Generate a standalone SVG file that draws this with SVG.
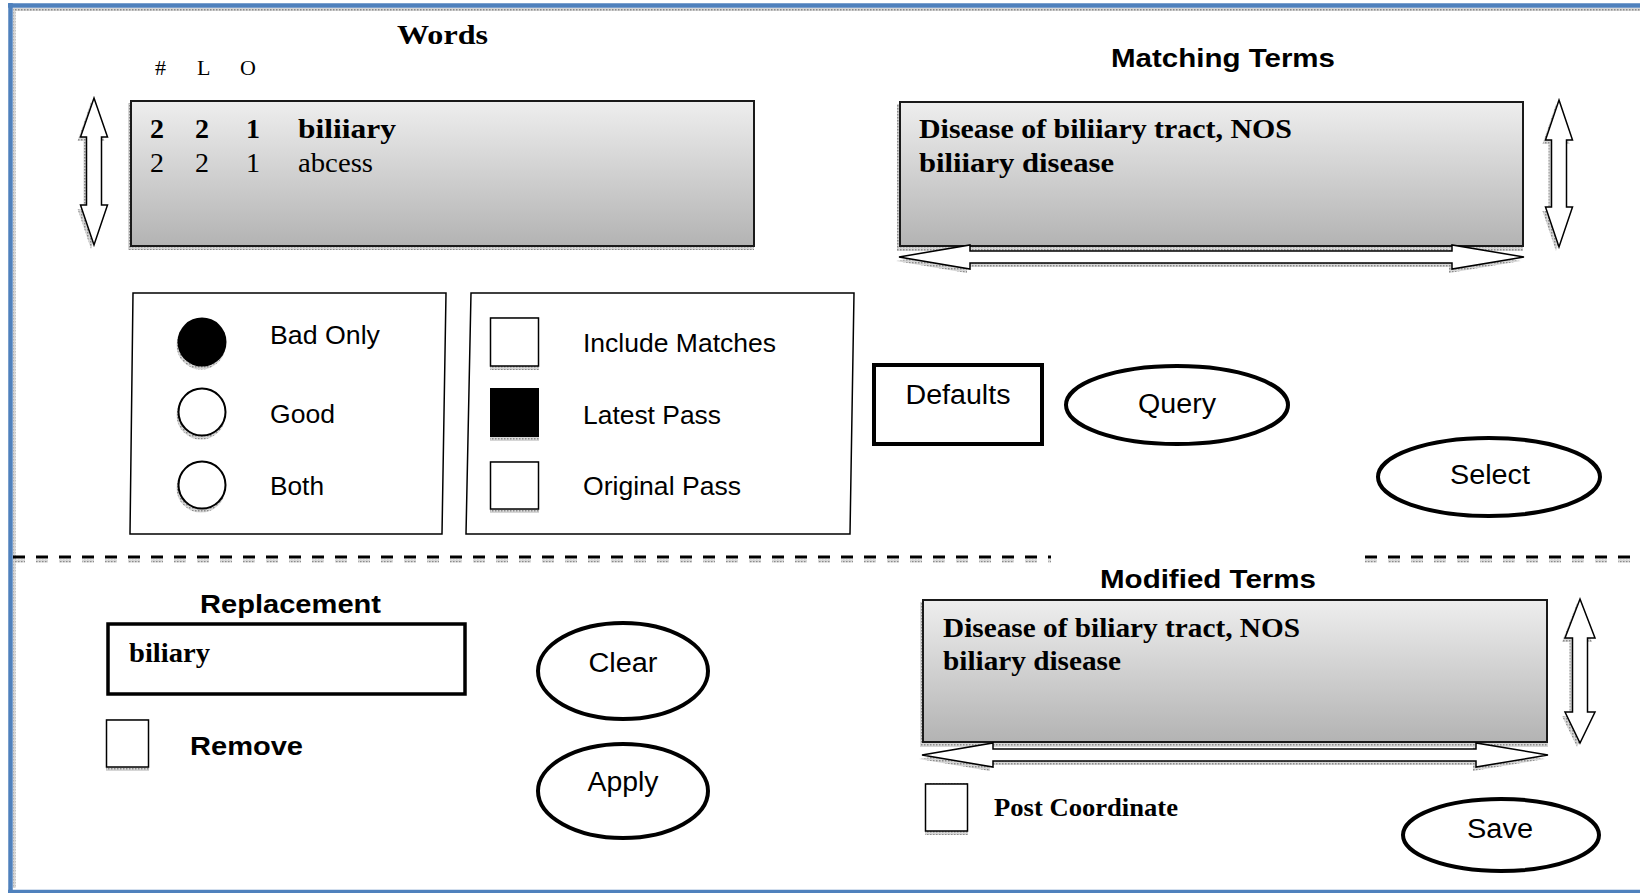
<svg xmlns="http://www.w3.org/2000/svg" width="1640" height="893" viewBox="0 0 1640 893">
  <defs>
    <linearGradient id="panelFill" x1="0" y1="0" x2="0" y2="1">
      <stop offset="0" stop-color="#eeeeee"/>
      <stop offset="1" stop-color="#b3b3b3"/>
    </linearGradient>
    <pattern id="stipple" width="3" height="3" patternUnits="userSpaceOnUse">
      <rect width="3" height="3" fill="#d6d6d6"/>
      <rect width="1.5" height="1.5" fill="#8c8c8c"/>
    </pattern>
    <style>
      .frame { stroke: #4f81bd; fill: none; }
      .panel { fill: url(#panelFill); stroke: #1a1a1a; stroke-width: 2; }
      .shadow { fill: url(#stipple); stroke: none; }
      .scroll { fill: #ffffff; stroke: #000000; stroke-width: 1.5; stroke-linejoin: miter; }
      .group-box { fill: none; stroke: #000000; stroke-width: 1.5; }
      .check { fill: #ffffff; stroke: #000000; stroke-width: 1.5; }
      .radio { fill: #ffffff; stroke: #000000; stroke-width: 2; }
      .button { fill: #ffffff; stroke: #000000; stroke-width: 4; }
      .divider { stroke: #000000; stroke-width: 3; stroke-dasharray: 12 11; fill: none; }
      .divider-shadow { stroke: url(#stipple); stroke-width: 3; stroke-dasharray: 12 11; fill: none; }
      .serif { font-family: "Liberation Serif", "Times New Roman", serif; fill: #000000; }
      .sans { font-family: "Liberation Sans", Arial, sans-serif; fill: #000000; }
      .title { font-family: "Liberation Sans", Arial, sans-serif; font-weight: bold; font-size: 26px; }
      .list { font-size: 28px; }
      .b { font-weight: bold; }
      .opt { font-size: 26px; }
      .btn { font-size: 27px; text-anchor: middle; }
    </style>
  </defs>

  <rect width="1640" height="893" fill="#ffffff"/>

  <!-- window frame -->
  <g id="frame">
    <rect x="13" y="8" width="1627" height="3" class="shadow"/>
    <rect x="13" y="8" width="2.5" height="880" class="shadow"/>
    <line x1="8" y1="5.5" x2="1640" y2="5.5" class="frame" stroke-width="4.5"/>
    <line x1="10.5" y1="3" x2="10.5" y2="893" class="frame" stroke-width="4.5"/>
    <line x1="8" y1="891.5" x2="1640" y2="891.5" class="frame" stroke-width="3.5"/>
  </g>

  <!-- section dividers -->
  <g id="dividers">
    <line x1="13" y1="561" x2="1051" y2="561" class="divider-shadow"/>
    <line x1="1365" y1="561" x2="1640" y2="561" class="divider-shadow"/>
    <line x1="13" y1="557" x2="1051" y2="557" class="divider"/>
    <line x1="1365" y1="557" x2="1640" y2="557" class="divider"/>
  </g>

  <!-- Words list -->
  <g id="words">
    <text x="397" y="44" class="serif b" font-size="28" textLength="91" lengthAdjust="spacingAndGlyphs">Words</text>
    <text x="155" y="75" class="serif" font-size="22">#</text>
    <text x="197" y="75" class="serif" font-size="22">L</text>
    <text x="240" y="75" class="serif" font-size="22">O</text>
    <rect x="128" y="103" width="626" height="147" class="shadow"/>
    <rect x="131" y="101" width="623" height="145" class="panel"/>
    <g class="serif list b">
      <text x="150" y="138">2</text>
      <text x="195" y="138">2</text>
      <text x="246" y="138">1</text>
      <text x="298" y="138" textLength="98" lengthAdjust="spacingAndGlyphs">biliiary</text>
    </g>
    <g class="serif list">
      <text x="150" y="172">2</text>
      <text x="195" y="172">2</text>
      <text x="246" y="172">1</text>
      <text x="298" y="172" textLength="75" lengthAdjust="spacingAndGlyphs">abcess</text>
    </g>
  </g>

  <!-- Matching terms list -->
  <g id="matching-terms">
    <text x="1111" y="67" class="title" textLength="224" lengthAdjust="spacingAndGlyphs">Matching Terms</text>
    <rect x="897" y="104" width="626" height="147" class="shadow"/>
    <rect x="900" y="102" width="623" height="144" class="panel"/>
    <g class="serif list b">
      <text x="919" y="138" textLength="373" lengthAdjust="spacingAndGlyphs">Disease of biliiary tract, NOS</text>
      <text x="919" y="172" textLength="195" lengthAdjust="spacingAndGlyphs">biliiary disease</text>
    </g>
  </g>

  <!-- Modified terms list -->
  <g id="modified-terms">
    <text x="1100" y="588" class="title" textLength="216" lengthAdjust="spacingAndGlyphs">Modified Terms</text>
    <rect x="920" y="602" width="628" height="145" class="shadow"/>
    <rect x="923" y="600" width="624" height="142" class="panel"/>
    <g class="serif list b">
      <text x="943" y="637" textLength="357" lengthAdjust="spacingAndGlyphs">Disease of biliary tract, NOS</text>
      <text x="943" y="670" textLength="178" lengthAdjust="spacingAndGlyphs">biliary disease</text>
    </g>
  </g>

  <!-- scroll arrows -->
  <g id="scrollbars">
    <g transform="translate(-3,4)" class="shadow">
      <path d="M94,98 L107.5,137 L101.5,137 L101.5,205 L107.5,205 L94,245 L80.5,205 L86.5,205 L86.5,137 L80.5,137 Z"/>
      <path d="M1559,100 L1572.5,140 L1566.5,140 L1566.5,207 L1572.5,207 L1559,247 L1545.5,207 L1551.5,207 L1551.5,140 L1545.5,140 Z"/>
      <path d="M899,257 L970,245 L970,251 L1452,251 L1452,245 L1524,257 L1452,269 L1452,263 L970,263 L970,269 Z"/>
      <path d="M1580,599 L1595,638 L1587.5,638 L1587.5,712 L1595,712 L1580,743 L1565,712 L1572.5,712 L1572.5,638 L1565,638 Z"/>
      <path d="M922,755 L993,743 L993,749 L1476,749 L1476,743 L1548,755 L1476,767 L1476,761 L993,761 L993,767 Z"/>
    </g>
    <path id="words-vscroll" class="scroll" d="M94,98 L107.5,137 L101.5,137 L101.5,205 L107.5,205 L94,245 L80.5,205 L86.5,205 L86.5,137 L80.5,137 Z"/>
    <path id="matching-vscroll" class="scroll" d="M1559,100 L1572.5,140 L1566.5,140 L1566.5,207 L1572.5,207 L1559,247 L1545.5,207 L1551.5,207 L1551.5,140 L1545.5,140 Z"/>
    <path id="matching-hscroll" class="scroll" d="M899,257 L970,245 L970,251 L1452,251 L1452,245 L1524,257 L1452,269 L1452,263 L970,263 L970,269 Z"/>
    <path id="modified-vscroll" class="scroll" d="M1580,599 L1595,638 L1587.5,638 L1587.5,712 L1595,712 L1580,743 L1565,712 L1572.5,712 L1572.5,638 L1565,638 Z"/>
    <path id="modified-hscroll" class="scroll" d="M922,755 L993,743 L993,749 L1476,749 L1476,743 L1548,755 L1476,767 L1476,761 L993,761 L993,767 Z"/>
  </g>

  <!-- word filter radio group -->
  <g id="filter-options">
    <polygon points="133,293 446,293 442,534 130,534" class="group-box"/>
    <circle cx="201" cy="345" r="24.5" class="shadow"/>
    <circle cx="201" cy="415" r="24.5" class="shadow"/>
    <circle cx="201" cy="488" r="24.5" class="shadow"/>
    <circle cx="202" cy="342" r="24.5" fill="#000000"/>
    <circle cx="202" cy="412" r="23.5" class="radio"/>
    <circle cx="202" cy="485" r="23.5" class="radio"/>
    <g class="sans opt">
      <text x="270" y="344" textLength="110" lengthAdjust="spacingAndGlyphs">Bad Only</text>
      <text x="270" y="423" textLength="65" lengthAdjust="spacingAndGlyphs">Good</text>
      <text x="270" y="495" textLength="54" lengthAdjust="spacingAndGlyphs">Both</text>
    </g>
  </g>

  <!-- pass selection check group -->
  <g id="pass-options">
    <polygon points="471,293 854,293 850,534 466,534" class="group-box"/>
    <rect x="490" y="317" width="49" height="53" class="shadow"/>
    <rect x="490" y="388" width="49" height="53" class="shadow"/>
    <rect x="490" y="461" width="49" height="52" class="shadow"/>
    <rect x="490.5" y="318" width="48" height="48" class="check"/>
    <rect x="490" y="388" width="49" height="49" fill="#000000"/>
    <rect x="490.5" y="462" width="48" height="47" class="check"/>
    <g class="sans opt">
      <text x="583" y="352" textLength="193" lengthAdjust="spacingAndGlyphs">Include Matches</text>
      <text x="583" y="424" textLength="138" lengthAdjust="spacingAndGlyphs">Latest Pass</text>
      <text x="583" y="495" textLength="158" lengthAdjust="spacingAndGlyphs">Original Pass</text>
    </g>
  </g>

  <!-- action buttons -->
  <g id="defaults-button">
    <rect x="874" y="365" width="168" height="79" class="button"/>
    <text x="958" y="404" class="sans btn" textLength="105" lengthAdjust="spacingAndGlyphs">Defaults</text>
  </g>
  <g id="query-button">
    <ellipse cx="1177" cy="405" rx="111" ry="39" class="button"/>
    <text x="1177" y="413" class="sans btn" textLength="78" lengthAdjust="spacingAndGlyphs">Query</text>
  </g>
  <g id="select-button">
    <ellipse cx="1489" cy="477" rx="111" ry="39" class="button"/>
    <text x="1490" y="484" class="sans btn" textLength="80" lengthAdjust="spacingAndGlyphs">Select</text>
  </g>

  <!-- replacement editor -->
  <g id="replacement">
    <text x="200" y="613" class="title" textLength="181" lengthAdjust="spacingAndGlyphs">Replacement</text>
    <rect x="108" y="624" width="357" height="70" fill="#ffffff" stroke="#000000" stroke-width="3.5"/>
    <text x="129" y="662" class="serif list b" textLength="81" lengthAdjust="spacingAndGlyphs">biliary</text>
  </g>
  <g id="remove-option">
    <rect x="106" y="719" width="43" height="52" class="shadow"/>
    <rect x="106.5" y="720" width="42" height="47" class="check"/>
    <text x="190" y="755" class="title" textLength="113" lengthAdjust="spacingAndGlyphs">Remove</text>
  </g>
  <g id="clear-button">
    <ellipse cx="623" cy="671" rx="85" ry="48" class="button"/>
    <text x="623" y="672" class="sans btn" textLength="69" lengthAdjust="spacingAndGlyphs">Clear</text>
  </g>
  <g id="apply-button">
    <ellipse cx="623" cy="791" rx="85" ry="47" class="button"/>
    <text x="623" y="791" class="sans btn" textLength="71" lengthAdjust="spacingAndGlyphs">Apply</text>
  </g>

  <!-- modified terms actions -->
  <g id="post-coordinate">
    <rect x="925" y="783" width="43" height="52" class="shadow"/>
    <rect x="925.5" y="784" width="42" height="47" class="check"/>
    <text x="994" y="816" class="serif b" font-size="26" textLength="184" lengthAdjust="spacingAndGlyphs">Post Coordinate</text>
  </g>
  <g id="save-button">
    <ellipse cx="1501" cy="835" rx="98" ry="36" class="button"/>
    <text x="1500" y="838" class="sans btn" textLength="66" lengthAdjust="spacingAndGlyphs">Save</text>
  </g>
</svg>
